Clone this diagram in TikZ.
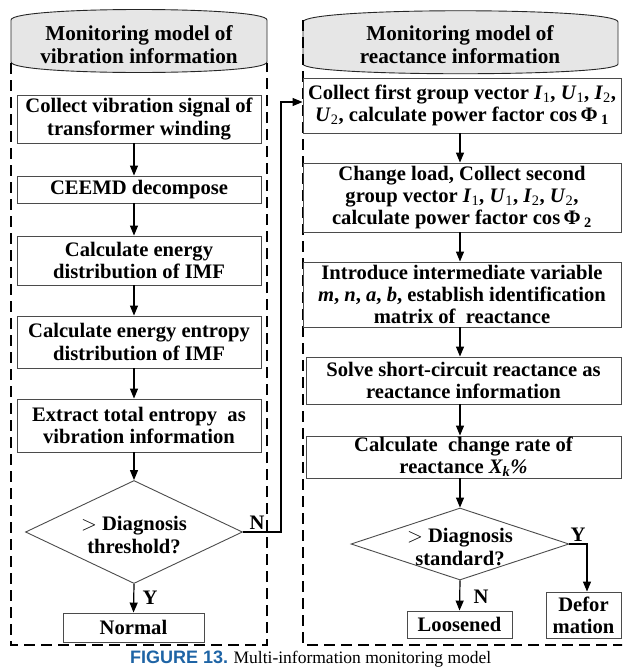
\documentclass[tikz,border=0pt]{standalone}
\usepackage{xcolor}
\usepackage{fontspec}
\setmainfont{Liberation Serif}[BoldFont={Liberation Serif Bold},ItalicFont={Liberation Serif Italic},BoldItalicFont={Liberation Serif Bold Italic}]
\newfontfamily\capsans{Liberation Sans}
\usetikzlibrary{arrows.meta,calc,shapes.geometric,positioning}
\definecolor{headgray}{RGB}{230,230,230}
\definecolor{boxline}{RGB}{75,75,75}
\definecolor{capblue}{RGB}{30,100,165}
\tikzset{
  stepbox/.style={draw=boxline,line width=0.9pt,rectangle,align=center,inner sep=0pt,
    font=\bfseries\fontsize{20.6}{22.3}\selectfont},
  decision/.style={draw=boxline,line width=0.9pt,diamond,inner sep=0pt},
  lbl/.style={align=center,inner sep=0pt,font=\bfseries\fontsize{20.6}{22.3}\selectfont},
  flow/.style={line width=1.2pt,-{Triangle[length=10pt,width=8pt]}},
  container/.style={line width=1.6pt,dash pattern=on 11pt off 6pt},
  header/.style={draw=black!85,line width=0.9pt,fill=headgray}
}
\newcommand{\vsub}[2]{\textit{#1}{\mdseries\textsubscript{#2}}}

\begin{document}
\begin{tikzpicture}[x=1pt,y=-1pt]
    \useasboundingbox (0,0) rectangle (622,667);
    \clip (0,0) rectangle (622,667);

    % draw the two headers
    \draw[header] (11,20) .. controls (11,6) and (267,6) .. (267,20) -- (267,62)
        .. controls (267,76) and (11,76) .. (11,62) -- cycle;
    \draw[header] (303,22) .. controls (303,7) and (618,7) .. (618,22) -- (618,64)
        .. controls (618,77) and (303,77) .. (303,64) -- cycle;
    \node[lbl,font=\bfseries\fontsize{21.2}{23}\selectfont] (lhead) at (139,45)
        {Monitoring model of\\vibration information};
    \node[lbl,font=\bfseries\fontsize{21.2}{23}\selectfont] (rhead) at (460,45)
        {Monitoring model of\\reactance information};

    % draw the dashed frames
    \draw[container] (11,63) -- (11,645) -- (267,645) -- (267,63);
    \draw[container] (303,20) -- (303,645) -- (640,645);

    % vibration side
    \node[stepbox,minimum width=244pt,minimum height=48pt] (lb1) at (139,119)
        {Collect vibration signal of\\transformer winding};
    \node[stepbox,minimum width=244pt,minimum height=27pt] (lb2) at (139,189.5)
        {CEEMD decompose};
    \node[stepbox,minimum width=244pt,minimum height=49pt] (lb3) at (139,260.5)
        {Calculate energy\\distribution of IMF};
    \node[stepbox,minimum width=244pt,minimum height=52pt] (lb4) at (139,342)
        {Calculate energy entropy\\distribution of IMF};
    \node[stepbox,minimum width=244pt,minimum height=53pt] (lb5) at (139,425.5)
        {Extract total entropy\ \ as\\vibration information};
    \node[decision,minimum width=217pt,minimum height=103pt] (ld) at (134,532) {};
    \node[lbl] (ldtext) at (134,535) {$>$ Diagnosis\\threshold?};
    \node[stepbox,minimum width=141pt,minimum height=29pt] (normal) at (133.5,627.5)
        {Normal};

    % reactance side
    \node[stepbox,minimum width=318pt,minimum height=55pt] (rb1) at (462,105.5)
        {Collect first group vector \vsub{I}{1}, \vsub{U}{1}, \vsub{I}{2},\\
         \vsub{U}{2}, calculate power factor cos\,Φ\,\textsubscript{1}};
    \node[stepbox,minimum width=318pt,minimum height=69pt] (rb2) at (462,197.5)
        {Change load, Collect second\\group vector \vsub{I}{1}, \vsub{U}{1}, \vsub{I}{2}, \vsub{U}{2},\\
         calculate power factor cos\,Φ\,\textsubscript{2}};
    \node[stepbox,minimum width=318pt,minimum height=65pt] (rb3) at (462,294.5)
        {Introduce intermediate variable\\\textit{m}, \textit{n}, \textit{a}, \textit{b}, establish identification\\
         matrix of\ \ reactance};
    \node[stepbox,minimum width=315pt,minimum height=47pt] (rb4) at (463.5,380.5)
        {Solve short-circuit reactance as\\reactance information};
    \node[stepbox,minimum width=315pt,minimum height=42pt] (rb5) at (463.5,457)
        {Calculate\ \ change rate of\\reactance \textit{X\textsubscript{k}\%}};
    \node[decision,minimum width=218pt,minimum height=72pt] (rd) at (460,544) {};
    \node[lbl] (rdtext) at (460,547) {$>$ Diagnosis\\standard?};
    \node[stepbox,minimum width=105pt,minimum height=27pt] (loose) at (459.5,624.5)
        {Loosened};
    \node[stepbox,minimum width=75pt,minimum height=46pt] (defor) at (583.5,615)
        {Defor\\mation};

    % draw the arrows
    \foreach \a/\b in {lb1/lb2,lb2/lb3,lb3/lb4,lb4/lb5,lb5/ld}
        \draw[flow] (\a.south -| ld) -- (\b.north -| ld);
    \foreach \a/\b in {rb1/rb2,rb2/rb3,rb3/rb4,rb4/rb5,rb5/rd}
        \draw[flow] (\a.south -| rd) -- (\b.north -| rd);
    \draw[flow] (ld.south) -- (normal.north);
    \draw[flow] (rd.south) -- (loose.north);

    % the two side branches
    \coordinate (nturn) at (281,102);
    \draw[flow] (ld.east) -| (nturn) -- (nturn -| rb1.west);
    \coordinate (yturn) at (587,544);
    \draw[flow] (rd.east) -- (yturn) -- (yturn |- defor.north);

    % label the branches
    \node[lbl] (lno) at (257,523) {N};
    \node[lbl] (lyes) at (150,598) {Y};
    \node[lbl] (rno) at (481,597) {N};
    \node[lbl] (ryes) at (578,535) {Y};

    % caption
    \node[anchor=base west,inner sep=0pt,text=capblue,font=\capsans\bfseries\fontsize{18}{20}\selectfont]
        (capfig) at (130,663) {FIGURE 13.};
    \node[anchor=base west,inner sep=0pt,font=\fontsize{17.5}{20}\selectfont]
        (captext) at ($(capfig.base east)+(5,0)$) {Multi-information monitoring model};
\end{tikzpicture}
\end{document}
